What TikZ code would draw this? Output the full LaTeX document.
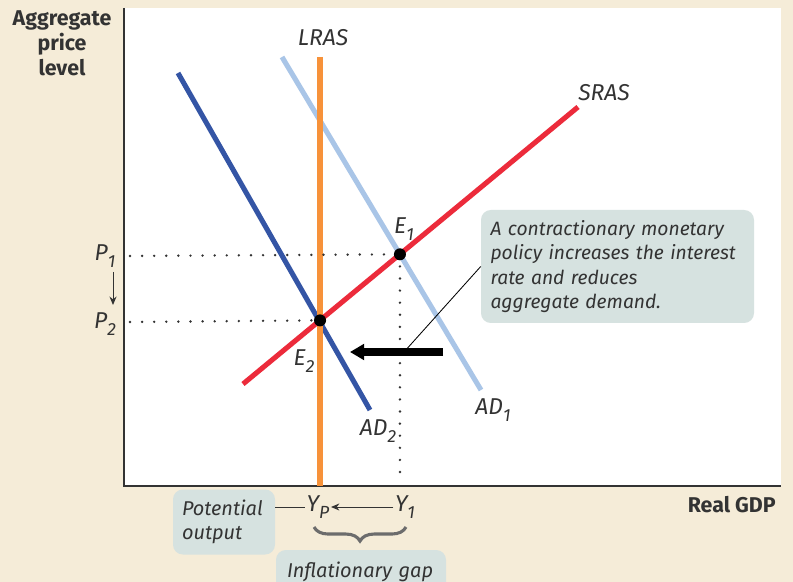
\documentclass[tikz,border=0pt]{standalone}
\usepackage{fontspec}
\setmainfont{Fira Sans}
\usetikzlibrary{positioning,arrows.meta,calc,decorations.pathreplacing}
\definecolor{paper}{HTML}{F5ECD8}
\definecolor{noteFill}{HTML}{D6E2E0}
\definecolor{lrasOrange}{HTML}{F7923A}
\definecolor{srasRed}{HTML}{EC2B3B}
\definecolor{adDark}{HTML}{3455A5}
\definecolor{adLight}{HTML}{A9C5E7}
\definecolor{inkGray}{HTML}{333333}
\newcommand{\subLab}[2]{\textit{#1}\raisebox{-0.32em}{\fontsize{12.5}{12.5}\selectfont #2}}
\hyphenpenalty=10000

\begin{document}
\begin{tikzpicture}[
    x=0.025cm, y=-0.025cm,
    axisTitle/.style={font=\fontsize{15.2}{17.8}\selectfont\bfseries, align=center, text=inkGray, inner sep=0pt},
    curveLabel/.style={font=\fontsize{16.3}{18}\selectfont\itshape, text=inkGray, inner sep=1pt},
    curveStyle/.style={line width=3.6pt},
    guideStyle/.style={line width=1.9pt, line cap=round, dash pattern=on 0pt off 8.6pt, draw=inkGray},
    dotStyle/.style={circle, fill=black, inner sep=0pt, minimum size=12*0.025cm},
    noteBox/.style={rectangle, rounded corners=7pt, fill=noteFill, font=\fontsize{14.2}{17.5}\selectfont\itshape, text=inkGray, align=left, inner sep=0pt},
    arrowStyle/.style={-{Stealth[length=6pt,width=5pt]}, line width=0.7pt, draw=inkGray}
]
    \useasboundingbox (0,0) rectangle (793,582);
    \fill[paper] (0,0) rectangle (793,582);
    \fill[white] (124,8) rectangle (781,486);
    \draw[inkGray, line width=1.5pt] (124,8) -- (124,486) -- (781,486);

    % curves
    \coordinate (lrasTop) at (320,57);
    \coordinate (lrasBot) at (320,486);
    \coordinate (srasLow) at (243,384);
    \coordinate (srasHigh) at (578,107);
    \coordinate (adOneTop) at (282,57);
    \coordinate (adOneBot) at (481,390);
    \coordinate (adTwoTop) at (178,73);
    \coordinate (adTwoBot) at (370,410);

    \draw[curveStyle, adLight] (adOneTop) -- (adOneBot);
    \draw[curveStyle, adDark] (adTwoTop) -- (adTwoBot);
    \draw[curveStyle, lrasOrange] (lrasTop) -- (lrasBot);
    \draw[curveStyle, srasRed] (srasLow) -- (srasHigh);

    \coordinate (eOne) at (intersection of srasLow--srasHigh and adOneTop--adOneBot);
    \coordinate (eTwo) at (intersection of srasLow--srasHigh and lrasTop--lrasBot);

    \node[curveLabel] (lrasLab) at (323,38) {LRAS};
    \node[curveLabel] (srasLab) at (604,93) {SRAS};
    \node[curveLabel] (adOneLab) at (493,410) {\subLab{AD}{1}};
    \node[curveLabel] (adTwoLab) at (378,431) {\subLab{AD}{2}};
    \node[curveLabel] (eOneLab) at (404,229) {\subLab{E}{1}};
    \node[curveLabel] (eTwoLab) at (304,361) {\subLab{E}{2}};

    % price levels
    \node[curveLabel] (pOne) at (105,256) {\subLab{P}{1}};
    \node[curveLabel] (pTwo) at (105,324) {\subLab{P}{2}};
    \draw[guideStyle] (130,256) -- (eOne);
    \draw[guideStyle] (130,322) -- (eTwo);
    \draw[guideStyle] (eOne) -- (eOne |- 0,484);
    \draw[arrowStyle] (113,272) -- (113,305);

    \node[dotStyle] (eOneDot) at (eOne) {};
    \node[dotStyle] (eTwoDot) at (eTwo) {};

    % shift of demand
    \coordinate (shiftStart) at (443,352);
    \coordinate (shiftEnd) at (350,352);
    \draw[line width=5pt, -{Triangle[length=10pt,width=11pt]}] (shiftStart) -- (shiftEnd);

    \node[noteBox, font=\fontsize{13.7}{17.5}\selectfont\itshape, minimum width=273*0.025cm, minimum height=113*0.025cm, text width=254*0.025cm] (note) at (617.5,266.5) {A contractionary monetary\\policy increases the interest\\rate and reduces\\aggregate demand.};
    \draw[black, line width=0.6pt] (404,352) -- (note.west);

    % output
    \node[curveLabel] (yP) at (318,507) {\subLab{Y}{\textit{P}}};
    \node[curveLabel] (yOne) at (405,507) {\subLab{Y}{1}};
    \draw[arrowStyle] (yOne.west) -- (yP.east);

    \node[noteBox, minimum width=102*0.025cm, minimum height=65*0.025cm, text width=84*0.025cm] (potential) at (224,522) {Potential\\output};
    \draw[inkGray, line width=0.7pt] (potential.east |- yP) -- (yP.west);

    \draw[decorate, decoration={brace, amplitude=10pt}, line width=2.2pt, draw=gray!85!black] (406,527) -- (314,527);
    \node[noteBox, minimum width=170*0.025cm, minimum height=50*0.025cm, text width=148*0.025cm] (gap) at (361,575) {\raisebox{7pt}{Inflationary gap}};

    \node[axisTitle] (yTitle) at (62,43) {Aggregate\\price\\level};
    \node[axisTitle, anchor=east] (xTitle) at (776,505) {Real GDP};
\end{tikzpicture}
\end{document}
